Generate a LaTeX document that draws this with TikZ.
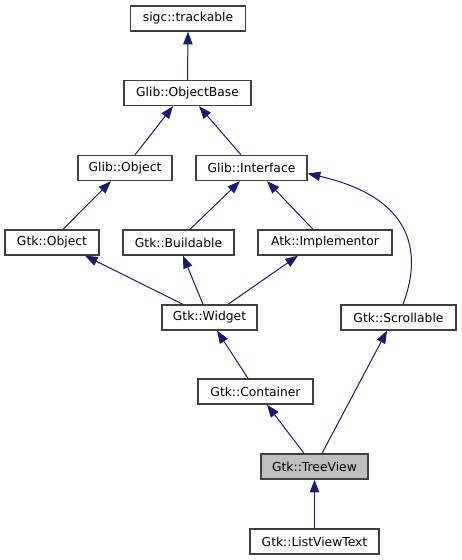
\documentclass[tikz,border=0pt]{standalone}
\usepackage{fontspec}
\setmainfont{DejaVu Sans}
\usetikzlibrary{arrows.meta,calc}
\definecolor{edgeblue}{HTML}{191970}
\definecolor{boxline}{HTML}{404040}
\definecolor{selfill}{HTML}{BFBFBF}
\tikzset{
  cls/.style={draw=boxline, line width=1pt, fill=white, minimum height=25*0.75pt, inner sep=0pt, font=\fontsize{9.25pt}{11pt}\selectfont, text=black},
  inh/.style={draw=edgeblue, line width=0.75pt, -{Triangle[length=9.5pt,width=7pt]}},
}
\begin{document}
\begin{tikzpicture}[x=0.75pt,y=-0.75pt]
\useasboundingbox (0,0) rectangle (461,560);
\node[cls, minimum width=115*0.75pt] (trk) at (188,18.5) {sigc::trackable};
\node[cls, minimum width=127*0.75pt] (ob) at (187.5,93) {Glib::ObjectBase};
\node[cls, minimum width=94*0.75pt] (go) at (125,168) {Glib::Object};
\node[cls, minimum width=111*0.75pt] (gi) at (251.5,168) {Glib::Interface};
\node[cls, minimum width=94*0.75pt] (gto) at (52,242.5) {Gtk::Object};
\node[cls, minimum width=111*0.75pt] (gb) at (178.5,242.5) {Gtk::Buildable};
\node[cls, minimum width=134*0.75pt] (ai) at (325,242.5) {Atk::Implementor};
\node[cls, minimum width=95*0.75pt] (gw) at (209.5,317.5) {Gtk::Widget};
\node[cls, minimum width=115*0.75pt] (gs) at (398.5,317.5) {Gtk::Scrollable};
\node[cls, minimum width=115*0.75pt] (gc) at (255.5,391.5) {Gtk::Container};
\node[cls, minimum width=107*0.75pt, fill=selfill] (tv) at (314.5,466.5) {Gtk::TreeView};
\node[cls, minimum width=129*0.75pt] (lvt) at (314.5,541.5) {Gtk::ListViewText};

\draw[inh] (ob.north) -- (trk.south);
\draw[inh] ($(go.north)+(10,0)$) -- ($(ob.south)+(-14.5,0)$);
\draw[inh] ($(gi.north)+(-10.5,0)$) -- ($(ob.south)+(11.5,0)$);
\draw[inh] ($(gto.north)+(11,0)$) -- ($(go.south)+(-14,0)$);
\draw[inh] ($(gb.north)+(11.5,0)$) -- ($(gi.south)+(-11.5,0)$);
\draw[inh] ($(ai.north)+(-12,0)$) -- ($(gi.south)+(15.5,0)$);
\draw[inh] ($(gs.north)+(4.5,0)$) .. controls ($(gs.north)+(21.5,-45)$) and ($(gs.north)+(21.5,-105)$) .. ($(gi.east)+(0,5.5)$);
\draw[inh] ($(gw.north)+(-26.5,0)$) -- ($(gto.south)+(33,0)$);
\draw[inh] ($(gw.north)+(-6.5,0)$) -- ($(gb.south)+(4.5,0)$);
\draw[inh] ($(gw.north)+(18.5,0)$) -- ($(ai.south)+(-27,0)$);
\draw[inh] ($(gc.north)+(-7.5,0)$) -- ($(gw.south)+(7.5,0)$);
\draw[inh] ($(tv.north)+(-10.5,0)$) -- ($(gc.south)+(11.5,0)$);
\draw[inh] ($(tv.north)+(7.5,0)$) -- ($(gs.south)+(-11.5,0)$);
\draw[inh] (lvt.north) -- (tv.south);
\end{tikzpicture}
\end{document}
